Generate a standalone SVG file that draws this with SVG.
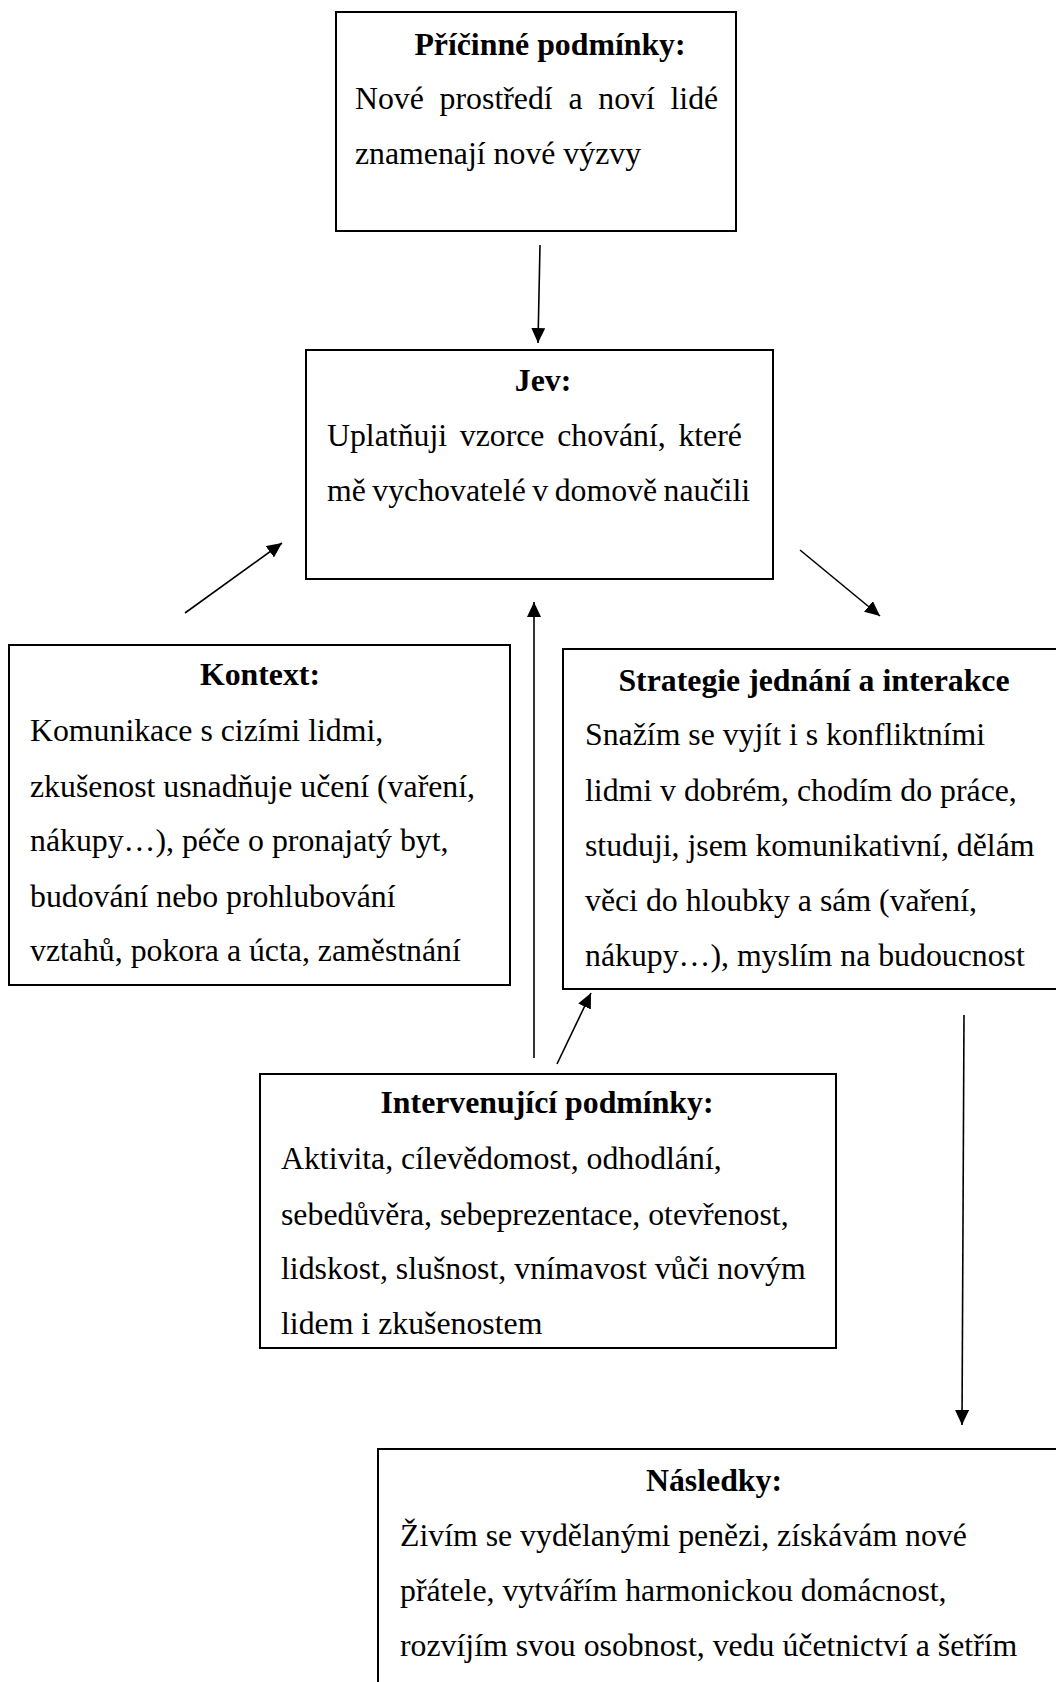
<svg xmlns="http://www.w3.org/2000/svg" width="1056" height="1682" viewBox="0 0 1056 1682">
<defs>
<style>
.box{fill:#fff;stroke:#000;stroke-width:2}
.t{font-family:"Liberation Serif","Times New Roman",serif;font-size:31.8px;fill:#000}
.h{font-weight:bold;text-anchor:middle}
.c{stroke:#000;stroke-width:1.6;fill:none;marker-end:url(#ah)}
</style>
<marker id="ah" markerUnits="userSpaceOnUse" markerWidth="16" markerHeight="14" refX="15" refY="7" orient="auto">
<path d="M0,0 L15,7 L0,14 Z" fill="#000"/>
</marker>
</defs>
<rect width="1056" height="1682" fill="#fff"/>

<g id="pricinne">
<rect class="box" x="336" y="12" width="400" height="219"/>
<text class="t h" x="550" y="55">Příčinné podmínky:</text>
<text class="t" x="355" y="109" word-spacing="7.8">Nové prostředí a noví lidé</text>
<text class="t" x="355" y="164">znamenají nové výzvy</text>
</g>

<g id="jev">
<rect class="box" x="306" y="350" width="467" height="229"/>
<text class="t h" x="543" y="391">Jev:</text>
<text class="t" x="327" y="446" word-spacing="4.7">Uplatňuji vzorce chování, které</text>
<text class="t" x="327" y="501" word-spacing="-1.5">mě vychovatelé v domově naučili</text>
</g>

<g id="kontext">
<rect class="box" x="9" y="645" width="501" height="340"/>
<text class="t h" x="260" y="685">Kontext:</text>
<text class="t" x="30" y="741">Komunikace s cizími lidmi,</text>
<text class="t" x="30" y="797">zkušenost usnadňuje učení (vaření,</text>
<text class="t" x="30" y="851">nákupy…), péče o pronajatý byt,</text>
<text class="t" x="30" y="907">budování nebo prohlubování</text>
<text class="t" x="30" y="961">vztahů, pokora a úcta, zaměstnání</text>
</g>

<g id="strategie">
<rect class="box" x="563" y="649" width="520" height="340"/>
<text class="t h" x="814" y="691">Strategie jednání a interakce</text>
<text class="t" x="585" y="745">Snažím se vyjít i s konfliktními</text>
<text class="t" x="585" y="801">lidmi v dobrém, chodím do práce,</text>
<text class="t" x="585" y="856">studuji, jsem komunikativní, dělám</text>
<text class="t" x="585" y="911">věci do hloubky a sám (vaření,</text>
<text class="t" x="585" y="966">nákupy…), myslím na budoucnost</text>
</g>

<g id="intervenujici">
<rect class="box" x="260" y="1074" width="576" height="274"/>
<text class="t h" x="547" y="1113">Intervenující podmínky:</text>
<text class="t" x="281" y="1169">Aktivita, cílevědomost, odhodlání,</text>
<text class="t" x="281" y="1225">sebedůvěra, sebeprezentace, otevřenost,</text>
<text class="t" x="281" y="1279">lidskost, slušnost, vnímavost vůči novým</text>
<text class="t" x="281" y="1334">lidem i zkušenostem</text>
</g>

<g id="nasledky">
<rect class="box" x="378" y="1449" width="700" height="260"/>
<text class="t h" x="714" y="1491">Následky:</text>
<text class="t" x="400" y="1546">Živím se vydělanými penězi, získávám nové</text>
<text class="t" x="400" y="1601">přátele, vytvářím harmonickou domácnost,</text>
<text class="t" x="400" y="1656">rozvíjím svou osobnost, vedu účetnictví a šetřím</text>
</g>

<g id="connectors">
<line class="c" x1="540" y1="245" x2="538" y2="343"/>
<line class="c" x1="185" y1="613" x2="282" y2="543"/>
<line class="c" x1="800" y1="550" x2="880" y2="616"/>
<line class="c" x1="534" y1="1058" x2="534" y2="602"/>
<line class="c" x1="557" y1="1064" x2="591" y2="993"/>
<line class="c" x1="964" y1="1015" x2="962" y2="1425"/>
</g>
</svg>
